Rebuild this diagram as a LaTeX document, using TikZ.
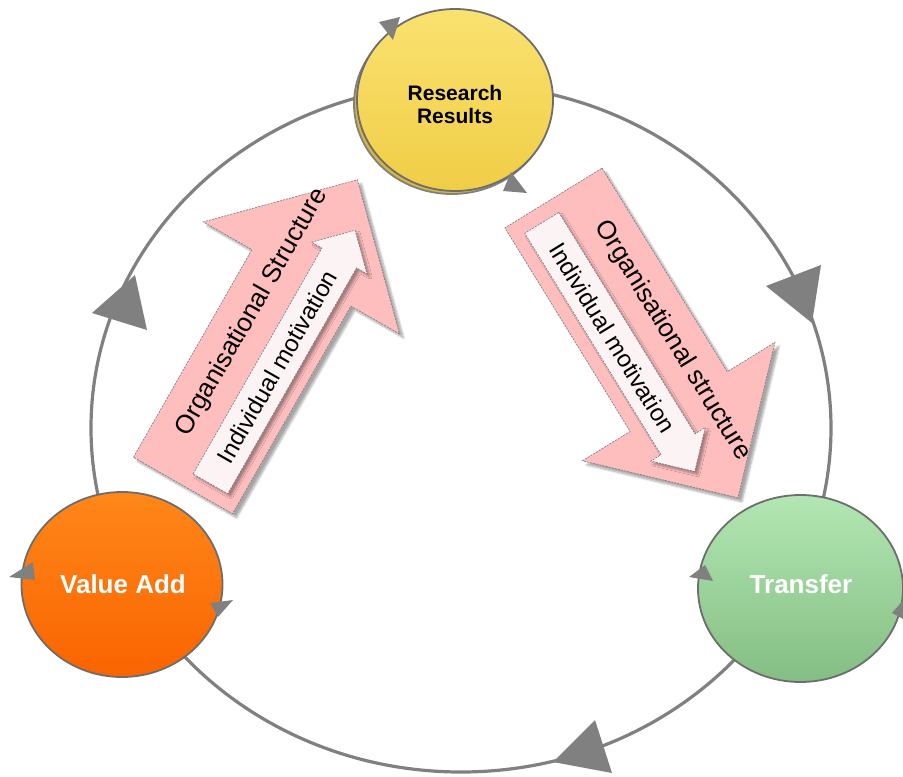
\documentclass[tikz,border=0pt]{standalone}
\usepackage{fontspec}
\setmainfont{Liberation Sans}
\usetikzlibrary{shapes.geometric,shadows.blur}
\definecolor{ringgray}{RGB}{128,128,128}
\definecolor{pinkfill}{RGB}{255,190,190}
\definecolor{innerfill}{RGB}{252,244,244}
\definecolor{yelmain}{RGB}{246,214,80}
\definecolor{yeltop}{RGB}{250,226,112}
\definecolor{yelbot}{RGB}{240,205,70}
\definecolor{yelback}{RGB}{214,182,66}
\definecolor{ormain}{RGB}{255,106,0}
\definecolor{ortop}{RGB}{255,135,25}
\definecolor{orbot}{RGB}{250,100,0}
\definecolor{grmain}{RGB}{140,200,140}
\definecolor{grtop}{RGB}{178,230,178}
\definecolor{grbot}{RGB}{132,190,132}
\begin{document}
\begin{tikzpicture}[x=1pt,y=-1pt,
  ring/.style={draw=ringgray,line width=3.2pt},
  ringtip/.style={fill=ringgray},
  bubble/.style={ellipse,draw=ringgray!85!black,line width=1.8pt,inner sep=0pt},
  bubbletext/.style={inner sep=0pt,font=\bfseries\fontsize{26}{28}\selectfont,align=center},
  blockarrow/.style={fill=pinkfill,draw=ringgray,line width=0.7pt,
    dash pattern=on 2pt off 1.2pt,
    blur shadow={shadow xshift=4pt,shadow yshift=-4pt,shadow blur steps=6,shadow opacity=35}},
  innerarrow/.style={fill=innerfill,draw=ringgray,line width=0.7pt,
    dash pattern=on 2pt off 1.2pt,
    blur shadow={shadow xshift=3pt,shadow yshift=-3pt,shadow blur steps=5,shadow opacity=35}},
  orgtext/.style={transform shape,inner sep=0pt,font=\fontsize{26}{28}\selectfont},
  indtext/.style={transform shape,inner sep=0pt,font=\fontsize{24}{26}\selectfont}
]
\useasboundingbox (0,0) rectangle (903,777);

% ring
\draw[ring] (461,428) ellipse [x radius=370, y radius=344];
\fill[ringtip] (766,286) -- (821,265) -- (812,323) -- cycle;
\fill[ringtip] (92,313) -- (135,275) -- (147,330) -- cycle;
\fill[ringtip] (553,762) -- (595,720) -- (612,773) -- cycle;

% left block arrow (upwards)
\begin{scope}[shift={(183,485.5)},rotate=60.3]
  \path[blockarrow] (0,-57) -- (239,-57) -- (239,-113) -- (352,0) -- (239,113) -- (239,57) -- (0,57) -- cycle;
  \path[innerarrow] (15,3) -- (275,3) -- (275,-9) -- (307,23) -- (275,55) -- (275,43) -- (15,43) -- cycle;
  \node[orgtext] (orgL) at (185,-26) {Organisational Structure};
  \node[indtext] (indL) at (150,23) {Individual motivation};
\end{scope}

% right block arrow (downwards)
\begin{scope}[shift={(553.5,198)},rotate=-58.4]
  \path[blockarrow] (0,-57) -- (239,-57) -- (239,-113) -- (352,0) -- (239,113) -- (239,57) -- (0,57) -- cycle;
  \path[innerarrow] (15,3) -- (275,3) -- (275,-9) -- (307,23) -- (275,55) -- (275,43) -- (15,43) -- cycle;
  \node[orgtext] (orgR) at (184,-27) {Organisational structure};
  \node[indtext] (indR) at (150,23) {Individual motivation};
\end{scope}

% bubbles
\fill[yelback,draw=ringgray,line width=1.8pt] (452,104) ellipse [x radius=98, y radius=90];
\node[bubble,top color=yeltop,middle color=yelmain,bottom color=yelbot,minimum width=196pt,minimum height=182pt] (rr) at (455,100) {};
\node[bubbletext,font=\bfseries\fontsize{21}{23}\selectfont] (rrtext) at (455,104) {Research\\Results};
\node[bubble,top color=ortop,middle color=ormain,bottom color=orbot,minimum width=201pt,minimum height=185pt] (va) at (122,584.5) {};
\node[bubbletext,text=white] (vatext) at (123,584) {Value Add};
\node[bubble,top color=grtop,middle color=grmain,bottom color=grbot,minimum width=205pt,minimum height=187pt] (tr) at (800.5,588.5) {};
\node[bubbletext,text=white] (trtext) at (801,584) {Transfer};

% small arrow heads on bubbles
\fill[ringtip] (379,22) -- (400,17) -- (393,40) -- cycle;
\fill[ringtip] (511,172) -- (527,193) -- (503,191) -- cycle;
\fill[ringtip] (9,577) -- (33,562) -- (35,580) -- cycle;
\fill[ringtip] (210,603) -- (233,600) -- (218,617) -- cycle;
\fill[ringtip] (689,577) -- (705,565) -- (713,581) -- cycle;
\fill[ringtip] (892,613) -- (905,598) -- (905,620) -- cycle;
\end{tikzpicture}
\end{document}
